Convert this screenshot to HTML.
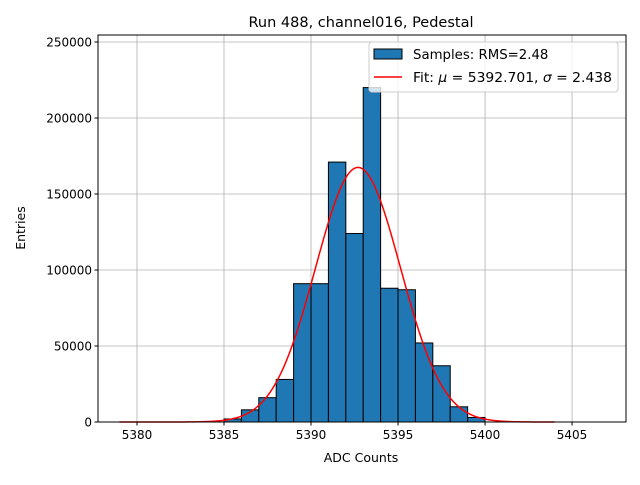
<!DOCTYPE html>
<html><head><meta charset="utf-8"><style>
body{margin:0;background:#fff;font-family:"Liberation Sans","DejaVu Sans",sans-serif}
text{font-family:"DejaVu Sans","Liberation Sans",sans-serif}
</style></head><body>
<svg id="chart" width="640" height="480" xmlns="http://www.w3.org/2000/svg">
<rect width="640" height="480" fill="#fff"/>
<g id="grid"></g><g id="bars"></g><g id="fit"></g><g id="axes"></g>
<text x="361" y="27" text-anchor="middle" font-size="14.5">Run 488, channel016, Pedestal</text>
<text x="361" y="462" text-anchor="middle" font-size="12.5">ADC Counts</text>
<text x="25" y="228" text-anchor="middle" font-size="12.5" transform="rotate(-90 25 228)">Entries</text>
<g>
<rect x="369" y="42" width="249" height="50" rx="3" fill="#fff" fill-opacity="0.8" stroke="#ccc"/>
<rect x="374" y="49" width="28" height="10" fill="#1f77b4" stroke="#000"/>
<text x="413" y="59" font-size="13.3">Samples: RMS=2.48</text>
<line x1="374" y1="77" x2="402" y2="77" stroke="red" stroke-width="1.5"/>
<text x="413" y="82" font-size="13.3" textLength="199" lengthAdjust="spacingAndGlyphs">Fit: <tspan font-style="italic">μ</tspan> = 5392.701, <tspan font-style="italic">σ</tspan> = 2.438</text>
</g>
</svg>
<script>
const binStarts=[5385,5386,5387,5388,5389,5390,5391,5392,5393,5394,5395,5396,5397,5398,5399];
const counts=[2000,8000,16000,28000,91000,91000,171000,124000,220000,88000,87000,52000,37000,10000,3000];
const fitMu=5392.701, fitSigma=2.438, fitAmp=167500, fitMin=5379, fitMax=5404;
const xTicks=[5380,5385,5390,5395,5400,5405];
const yTicks=[0,50000,100000,150000,200000,250000];
const L=98,R=626,T=35,B=422;
const xmin=5377.76,xmax=5408.1,ymax=254600;
const X=v=>L+(v-xmin)/(xmax-xmin)*(R-L);
const Y=v=>B-v/ymax*(B-T);
const NS="http://www.w3.org/2000/svg";
function mk(tag,attrs,parent){const e=document.createElementNS(NS,tag);for(const k in attrs)e.setAttribute(k,attrs[k]);document.getElementById(parent).appendChild(e);return e;}
xTicks.forEach(t=>{const g=mk('line',{x1:X(t),x2:X(t),y1:T,y2:B,stroke:'#b0b0b0','stroke-width':0.8},'grid');


const tk=mk('line',{x1:X(t),x2:X(t),y1:B,y2:B+3.5,stroke:'#000'},'axes');


const tx=mk('text',{x:X(t),y:B+17,'text-anchor':'middle','font-size':12},'axes');tx.textContent=t;

});
yTicks.forEach(t=>{const g=mk('line',{x1:L,x2:R,y1:Y(t),y2:Y(t),stroke:'#b0b0b0','stroke-width':0.8},'grid');


const tk=mk('line',{x1:L-3.5,x2:L,y1:Y(t),y2:Y(t),stroke:'#000'},'axes');


const tx=mk('text',{x:L-6,y:Y(t)+4.5,'text-anchor':'end','font-size':12},'axes');tx.textContent=t;

});
binStarts.forEach((b,i)=>{const r=mk('rect',{x:X(b),y:Y(counts[i]),width:X(b+1)-X(b),height:B-Y(counts[i]),fill:'#1f77b4',stroke:'#000','stroke-width':1},'bars');

});
let d='';for(let i=0;i<=300;i++){const v=fitMin+(fitMax-fitMin)*i/300;const y=fitAmp*Math.exp(-0.5*((v-fitMu)/fitSigma)**2);d+=(i?'L':'M')+X(v).toFixed(2)+','+Y(y).toFixed(2);}
const p=mk('path',{d:d,fill:'none',stroke:'red','stroke-width':1.5},'fit');


const f=mk('rect',{x:L,y:T,width:R-L,height:B-T,fill:'none',stroke:'#000','stroke-width':1},'axes');


</script>
</body></html>
